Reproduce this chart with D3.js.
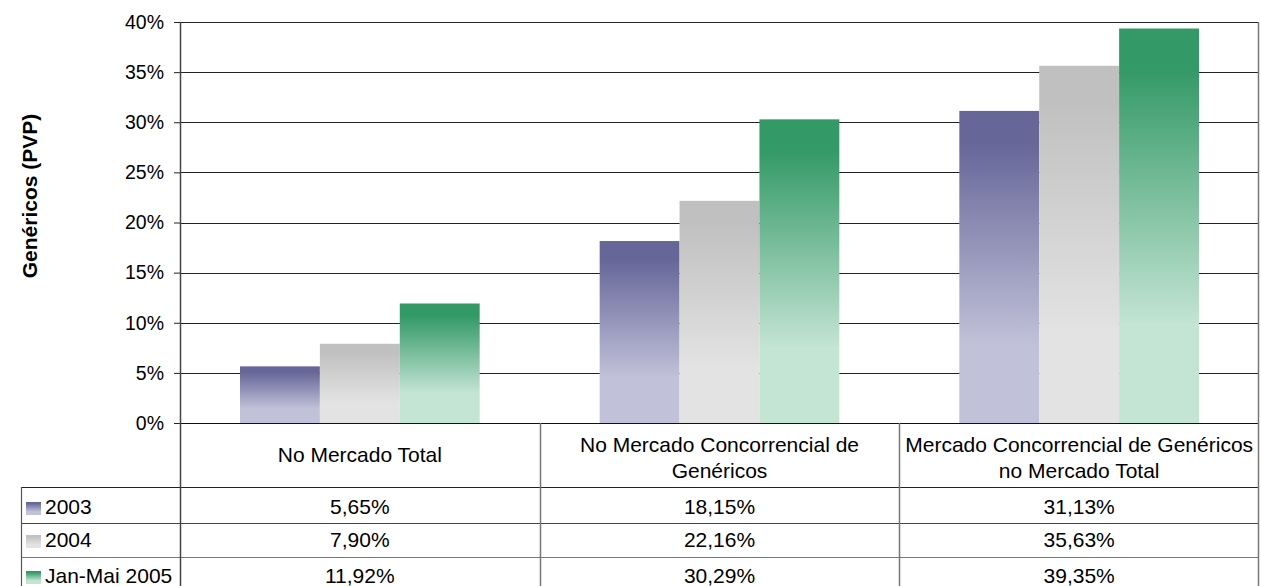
<!DOCTYPE html>
<html>
<head>
<meta charset="utf-8">
<script src="https://d3js.org/d3.v7.min.js"></script>
<style>
  body { margin: 0; background: #fff; }
  text { font-family: "Liberation Sans", Arial, sans-serif; fill: #000; }
</style>
</head>
<body>
<script type="text/javascript">

// chart data
var categories = [
    ["No Mercado Total"],
    ["No Mercado Concorrencial de", "Genéricos"],
    ["Mercado Concorrencial de Genéricos", "no Mercado Total"]
];
var seriesNames = ["2003", "2004", "Jan-Mai 2005"];
var values2003 = [0.0565, 0.1815, 0.3113];
var values2004 = [0.0790, 0.2216, 0.3563];
var values2005 = [0.1192, 0.3029, 0.3935];
var yTicks = [0, 0.05, 0.10, 0.15, 0.20, 0.25, 0.30, 0.35, 0.40];

var series = [values2003, values2004, values2005];
var colors = [
    {dark: "#666699", light: "#c1c1d9"},
    {dark: "#c0c0c0", light: "#e3e3e3"},
    {dark: "#339966", light: "#c4e4d4"}
];

var w = 1261, h = 586;
var plot = {left: 180, right: 1259, top: 22, bottom: 423};
var rowH = [487, 523, 557, 593];
var rowBase = [514, 547, 583];
var fs = 21;

var pt = d3.formatLocale({decimal: ",", thousands: ".", grouping: [3], currency: ["", "€"]});
var pct0 = pt.format(".0%"), pct2 = pt.format(".2%");

var svg = d3.select("body").append("svg")
    .attr("width", w)
    .attr("height", h);

// gradients, one per series
var defs = svg.append("defs");
colors.forEach(function(c, i) {
    var g = defs.append("linearGradient")
        .attr("id", "grad" + i)
        .attr("x1", 0).attr("y1", 0).attr("x2", 0).attr("y2", 1);
    g.append("stop").attr("offset", "0").attr("stop-color", c.dark);
    g.append("stop").attr("offset", "0.1").attr("stop-color", c.dark);
    g.append("stop").attr("offset", "0.75").attr("stop-color", c.light);
    g.append("stop").attr("offset", "1").attr("stop-color", c.light);
});

var y = d3.scaleLinear()
    .domain([0, 0.4])
    .range([plot.bottom, plot.top]);

var x0 = d3.scaleBand()
    .domain(d3.range(categories.length))
    .range([plot.left, plot.right]);

var x1 = d3.scaleBand()
    .domain(d3.range(series.length))
    .range([60, x0.bandwidth() - 60]);

// gridlines + y axis
var yAxis = svg.append("g")
    .attr("transform", "translate(" + plot.left + ",0)")
    .call(d3.axisLeft(y).tickValues(yTicks).tickFormat(pct0)
        .tickSize(6).tickPadding(10));
yAxis.select(".domain").remove();
yAxis.selectAll(".tick line").attr("stroke", "#222");
yAxis.selectAll(".tick text").attr("font-size", 19.5);

svg.append("g").selectAll("line")
    .data(yTicks)
    .join("line")
    .attr("x1", plot.left).attr("x2", plot.right)
    .attr("y1", function(d) { return Math.round(y(d)) + 0.5; })
    .attr("y2", function(d) { return Math.round(y(d)) + 0.5; })
    .attr("stroke", "#222")
    .attr("stroke-width", 1.2);

// bars
series.forEach(function(vals, si) {
    svg.append("g").selectAll("rect")
        .data(vals)
        .join("rect")
        .attr("x", function(d, i) { return x0(i) + x1(si); })
        .attr("width", x1.bandwidth())
        .attr("y", function(d) { return y(d); })
        .attr("height", function(d) { return y(0) - y(d); })
        .attr("fill", "url(#grad" + si + ")");
});

// data table
var tbl = svg.append("g");

// category header text
categories.forEach(function(lines, i) {
    var cx = x0(i) + x0.bandwidth() / 2;
    lines.forEach(function(l, j) {
        tbl.append("text")
            .attr("x", cx)
            .attr("y", lines.length == 1 ? 462 : 452 + j * 26)
            .attr("text-anchor", "middle")
            .attr("font-size", fs)
            .text(l);
    });
});

// rows
series.forEach(function(vals, si) {
    var b = rowBase[si];
    tbl.append("rect")
        .attr("x", 26).attr("y", b - 12)
        .attr("width", 15).attr("height", 13)
        .attr("fill", "url(#grad" + si + ")");
    tbl.append("text")
        .attr("x", 45).attr("y", b)
        .attr("font-size", fs)
        .text(seriesNames[si]);
    vals.forEach(function(v, i) {
        tbl.append("text")
            .attr("x", x0(i) + x0.bandwidth() / 2)
            .attr("y", b)
            .attr("text-anchor", "middle")
            .attr("font-size", fs)
            .text(pct2(v));
    });
});

// table lines
var hl = [[plot.left, plot.bottom, "#111"], [21, rowH[0], "#222"], [21, rowH[1], "#444"], [21, rowH[2], "#777"]];
hl.forEach(function(d) {
    tbl.append("line")
        .attr("x1", d[0]).attr("x2", plot.right)
        .attr("y1", d[1] + 0.5).attr("y2", d[1] + 0.5)
        .attr("stroke", d[2]).attr("stroke-width", 1.2);
});
[1, 2].forEach(function(i) {
    tbl.append("line")
        .attr("x1", Math.round(x0(i)) + 0.5).attr("x2", Math.round(x0(i)) + 0.5)
        .attr("y1", plot.bottom).attr("y2", h)
        .attr("stroke", "#777").attr("stroke-width", 1.5);
});
tbl.append("line")
    .attr("x1", plot.right - 0.5).attr("x2", plot.right - 0.5)
    .attr("y1", plot.top).attr("y2", h)
    .attr("stroke", "#777").attr("stroke-width", 1.5);
tbl.append("line")
    .attr("x1", 21.5).attr("x2", 21.5)
    .attr("y1", rowH[0]).attr("y2", h)
    .attr("stroke", "#555").attr("stroke-width", 1.2);
// left axis line
tbl.append("line")
    .attr("x1", plot.left + 0.5).attr("x2", plot.left + 0.5)
    .attr("y1", plot.top).attr("y2", h)
    .attr("stroke", "#444").attr("stroke-width", 1.5);

// y title
svg.append("text")
    .attr("transform", "translate(37,196) rotate(-90)")
    .attr("text-anchor", "middle")
    .attr("font-size", 21)
    .attr("font-weight", "bold")
    .text("Genéricos (PVP)");

</script>
</body>
</html>
